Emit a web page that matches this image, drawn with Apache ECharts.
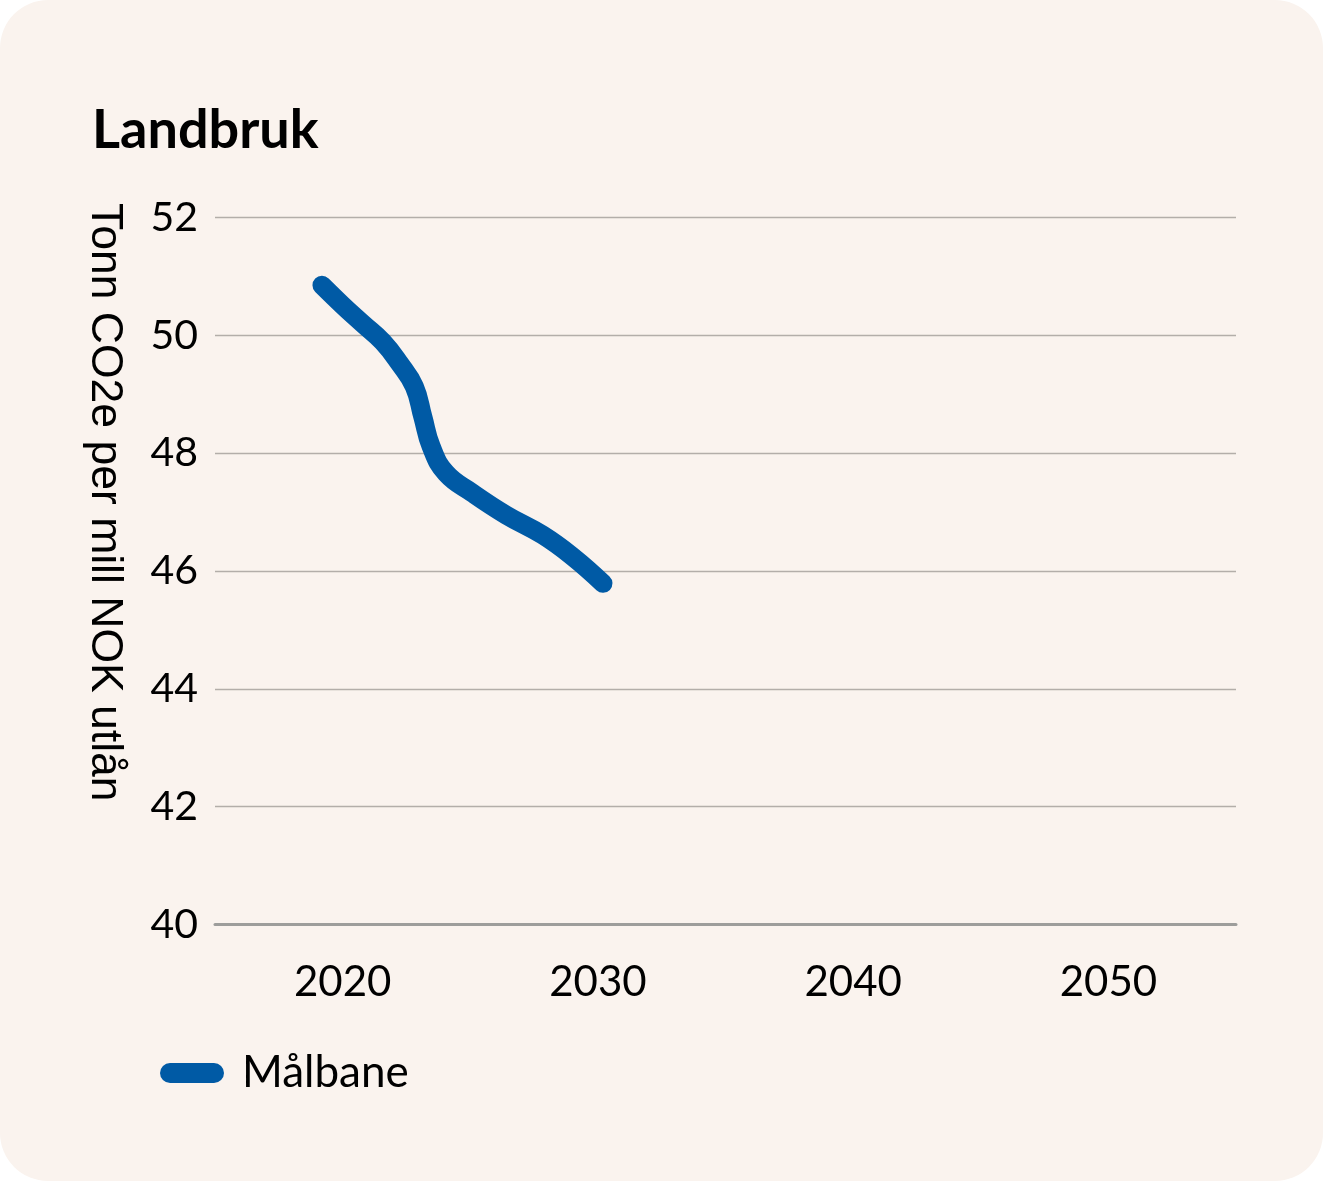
<!DOCTYPE html>
<html>
<head>
<meta charset="utf-8">
<script src="https://cdn.jsdelivr.net/npm/echarts@6/dist/echarts.min.js"></script>
<style>
  html, body { margin: 0; padding: 0; background: #ffffff; }
  #card { width: 1323px; height: 1181px; background: #FAF3EE; border-radius: 48px; overflow: hidden; }
  #chart { width: 1323px; height: 1181px; }
</style>
</head>
<body>
<div id="card"><div id="chart"></div></div>
<script>
// Data
const title = 'Landbruk';
const yAxisTitle = 'Tonn CO2e per mill NOK utlån';
const seriesName = 'Målbane';
const years = [2019.19, 2020.0, 2020.78, 2021.57, 2022.22, 2022.81, 2023.14, 2023.47, 2024.05, 2025.10, 2026.41, 2027.84, 2029.02, 2030.20];
const values = [50.85, 50.51, 50.20, 49.89, 49.53, 49.13, 48.62, 48.11, 47.66, 47.32, 46.95, 46.61, 46.24, 45.79];
const xTicks = [2020, 2030, 2040, 2050];
const yMin = 40, yMax = 52, yStep = 2;

const chart = echarts.init(document.getElementById('chart'), null, { renderer: 'canvas' });
const seriesData = years.map((y, i) => [y, values[i]]);

chart.setOption({
  backgroundColor: 'transparent',
  animation: false,
  title: {
    text: title,
    left: 92, top: 104, padding: 0,
    textStyle: { fontFamily: 'Lato', fontWeight: 'bold', fontSize: 54, color: '#000' }
  },
  grid: { left: 215, right: 87, top: 217.5, bottom: 256.5, containLabel: false },
  xAxis: {
    type: 'value', min: 2015, max: 2055, interval: 5,
    axisLine: { show: true, lineStyle: { color: '#9d9d9b', width: 3 } },
    axisTick: { show: false },
    splitLine: { show: false },
    axisLabel: {
      margin: 37, color: '#000', fontFamily: 'Lato', fontSize: 42,
      formatter: v => xTicks.indexOf(v) >= 0 ? String(v) : ''
    }
  },
  yAxis: {
    type: 'value', min: yMin, max: yMax, interval: yStep,
    axisLine: { show: false },
    axisTick: { show: false },
    splitLine: { show: true, lineStyle: { color: '#b3aea9', width: 1.3 } },
    axisLabel: { margin: 17, color: '#000', fontFamily: 'Lato', fontSize: 41 }
  },
  legend: {
    left: 155, top: 1046,
    data: [{ name: seriesName, icon: 'path://M10,0 H54 A10,10 0 0 1 54,20 H10 A10,10 0 0 1 10,0 Z' }],
    itemWidth: 64, itemHeight: 20,
    textStyle: { fontFamily: 'Lato', fontSize: 44, color: '#000', padding: [0, 0, 0, 13] }
  },
  graphic: [{
    type: 'text',
    x: 127, y: 203,
    rotation: -Math.PI / 2,
    style: {
      text: yAxisTitle,
      font: '44.5px "Liberation Sans"',
      fill: '#000',
      textAlign: 'left',
      textVerticalAlign: 'top'
    }
  }],
  series: [{
    name: seriesName,
    type: 'line',
    data: seriesData,
    smooth: 0.45,
    symbol: 'none',
    color: '#005AA5',
    lineStyle: { width: 19, color: '#005AA5', cap: 'round', join: 'round' }
  }]
});
</script>
</body>
</html>
